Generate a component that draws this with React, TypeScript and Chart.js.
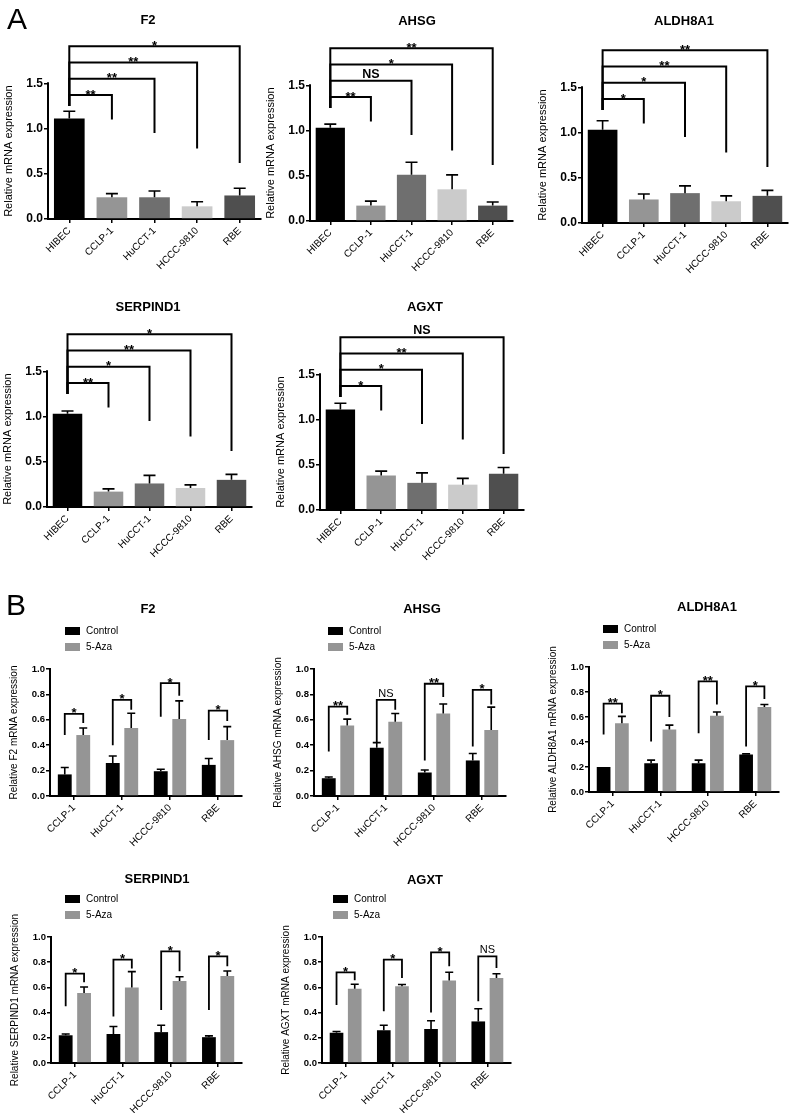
import React, { useEffect, useRef } from 'react';
import { Chart, registerables } from 'chart.js';

Chart.register(...registerables);

const FONT = '"Liberation Sans", Arial, Helvetica, sans-serif';

// ---------- categories / series ----------
const linesA = ['HIBEC', 'CCLP-1', 'HuCCT-1', 'HCCC-9810', 'RBE'];
const linesB = ['CCLP-1', 'HuCCT-1', 'HCCC-9810', 'RBE'];
const colorsA = ['#000000', '#959595', '#6f6f6f', '#cbcbcb', '#4f4f4f'];
const seriesB = ['Control', '5-Aza'];
const colorsB = ['#000000', '#959595'];

const ticksA = [0, 0.5, 1.0, 1.5];
const ticksB = [0, 0.2, 0.4, 0.6, 0.8, 1.0];

// ---------- Panel A values (mean, SD) ----------
const f2A = [1.11, 0.24, 0.24, 0.14, 0.26];
const f2AErr = [0.08, 0.04, 0.07, 0.05, 0.08];
const f2ASig = ['**', '**', '**', '*'];

const ahsgA = [1.03, 0.17, 0.51, 0.35, 0.17];
const ahsgAErr = [0.04, 0.05, 0.14, 0.16, 0.04];
const ahsgASig = ['**', 'NS', '*', '**'];

const aldhA = [1.03, 0.26, 0.33, 0.24, 0.3];
const aldhAErr = [0.1, 0.06, 0.08, 0.06, 0.06];
const aldhASig = ['*', '*', '**', '**'];

const serpA = [1.03, 0.17, 0.26, 0.21, 0.3];
const serpAErr = [0.03, 0.03, 0.09, 0.035, 0.06];
const serpASig = ['**', '*', '**', '*'];

const agxtA = [1.11, 0.38, 0.3, 0.28, 0.4];
const agxtAErr = [0.07, 0.05, 0.11, 0.07, 0.07];
const agxtASig = ['*', '*', '**', 'NS'];

// bracket heights (value units) used in panel A
const bracketTopA = [1.37, 1.55, 1.73, 1.91];
const bracketEndA = [1.1, 0.95, 0.78, 0.62];
const bracketStartA = 1.25;

// ---------- Panel B values ----------
const f2Ctrl = [0.17, 0.26, 0.195, 0.245];
const f2CtrlErr = [0.055, 0.055, 0.016, 0.05];
const f2Aza = [0.48, 0.535, 0.607, 0.44];
const f2AzaErr = [0.055, 0.117, 0.142, 0.106];
const f2BTop = [0.646, 0.757, 0.889, 0.673];
const f2BLeft = [0.48, 0.4, 0.625, 0.44];
const f2BRight = [0.575, 0.68, 0.79, 0.59];
const f2BSig = ['*', '*', '*', '*'];

const ahsgCtrl = [0.14, 0.38, 0.185, 0.28];
const ahsgCtrlErr = [0.01, 0.04, 0.02, 0.055];
const ahsgAza = [0.555, 0.585, 0.65, 0.52];
const ahsgAzaErr = [0.05, 0.065, 0.075, 0.18];
const ahsgBTop = [0.704, 0.757, 0.884, 0.836];
const ahsgBLeft = [0.35, 0.42, 0.28, 0.39];
const ahsgBRight = [0.64, 0.68, 0.78, 0.72];
const ahsgBSig = ['**', 'NS', '**', '*'];

const aldhCtrl = [0.2, 0.23, 0.23, 0.3];
const aldhCtrlErr = [0.0, 0.025, 0.025, 0.005];
const aldhAza = [0.55, 0.5, 0.61, 0.68];
const aldhAzaErr = [0.055, 0.035, 0.03, 0.02];
const aldhBTop = [0.707, 0.77, 0.885, 0.845];
const aldhBLeft = [0.46, 0.405, 0.47, 0.365];
const aldhBRight = [0.63, 0.6, 0.7, 0.745];
const aldhBSig = ['**', '*', '**', '*'];

const serpCtrl = [0.22, 0.23, 0.245, 0.205];
const serpCtrlErr = [0.01, 0.06, 0.055, 0.01];
const serpAza = [0.555, 0.6, 0.65, 0.69];
const serpAzaErr = [0.048, 0.125, 0.035, 0.04];
const serpBTop = [0.709, 0.82, 0.886, 0.847];
const serpBLeft = [0.45, 0.37, 0.42, 0.42];
const serpBRight = [0.64, 0.75, 0.728, 0.767];
const serpBSig = ['*', '*', '*', '*'];

const agxtCtrl = [0.24, 0.26, 0.27, 0.33];
const agxtCtrlErr = [0.01, 0.04, 0.065, 0.1];
const agxtAza = [0.59, 0.61, 0.655, 0.675];
const agxtAzaErr = [0.035, 0.013, 0.065, 0.033];
const agxtBTop = [0.72, 0.82, 0.878, 0.847];
const agxtBLeft = [0.46, 0.41, 0.4, 0.49];
const agxtBRight = [0.656, 0.675, 0.767, 0.754];
const agxtBSig = ['*', '*', '*', 'NS'];

type Spec = {
  kind: 'A' | 'B';
  title: string;
  titleX: number;
  titleY: number;
  letter?: string;
  letterX?: number;
  letterY?: number;
  yTitle: string;
  L: number;
  R: number;
  B0: number;
  ppu: number;
  series: number[][];
  errs: number[][];
  bTop: number[];
  bLeft: number[];
  bRight: number[];
  sig: string[];
  legendX?: number;
};

const specs: Spec[] = [
  { kind: 'A', title: 'F2', titleX: 148, titleY: 20, letter: 'A', letterX: 7, letterY: 29, yTitle: 'Relative mRNA expression',
    L: 48, R: 261, B0: 219, ppu: 90.67, series: [f2A], errs: [f2AErr],
    bTop: bracketTopA, bLeft: bracketTopA.map(() => bracketStartA), bRight: bracketEndA, sig: f2ASig },
  { kind: 'A', title: 'AHSG', titleX: 417, titleY: 21, yTitle: 'Relative mRNA expression',
    L: 310, R: 513, B0: 221, ppu: 90.67, series: [ahsgA], errs: [ahsgAErr],
    bTop: bracketTopA, bLeft: bracketTopA.map(() => bracketStartA), bRight: bracketEndA, sig: ahsgASig },
  { kind: 'A', title: 'ALDH8A1', titleX: 684, titleY: 21, yTitle: 'Relative mRNA expression',
    L: 582, R: 788, B0: 223, ppu: 90.67, series: [aldhA], errs: [aldhAErr],
    bTop: bracketTopA, bLeft: bracketTopA.map(() => bracketStartA), bRight: bracketEndA, sig: aldhASig },
  { kind: 'A', title: 'SERPIND1', titleX: 148, titleY: 307, yTitle: 'Relative mRNA expression',
    L: 47, R: 252, B0: 507, ppu: 90.67, series: [serpA], errs: [serpAErr],
    bTop: bracketTopA, bLeft: bracketTopA.map(() => bracketStartA), bRight: bracketEndA, sig: serpASig },
  { kind: 'A', title: 'AGXT', titleX: 425, titleY: 307, yTitle: 'Relative mRNA expression',
    L: 320, R: 524, B0: 510, ppu: 90.67, series: [agxtA], errs: [agxtAErr],
    bTop: bracketTopA, bLeft: bracketTopA.map(() => bracketStartA), bRight: bracketEndA, sig: agxtASig },

  { kind: 'B', title: 'F2', titleX: 148, titleY: 609, letter: 'B', letterX: 6, letterY: 615, yTitle: 'Relative F2 mRNA expression',
    L: 50, R: 242, B0: 796, ppu: 127, series: [f2Ctrl, f2Aza], errs: [f2CtrlErr, f2AzaErr],
    bTop: f2BTop, bLeft: f2BLeft, bRight: f2BRight, sig: f2BSig, legendX: 65 },
  { kind: 'B', title: 'AHSG', titleX: 422, titleY: 609, yTitle: 'Relative AHSG mRNA expression',
    L: 314, R: 506, B0: 796, ppu: 127, series: [ahsgCtrl, ahsgAza], errs: [ahsgCtrlErr, ahsgAzaErr],
    bTop: ahsgBTop, bLeft: ahsgBLeft, bRight: ahsgBRight, sig: ahsgBSig, legendX: 328 },
  { kind: 'B', title: 'ALDH8A1', titleX: 707, titleY: 607, yTitle: 'Relative ALDH8A1 mRNA expression',
    L: 589, R: 779, B0: 792, ppu: 125, series: [aldhCtrl, aldhAza], errs: [aldhCtrlErr, aldhAzaErr],
    bTop: aldhBTop, bLeft: aldhBLeft, bRight: aldhBRight, sig: aldhBSig, legendX: 603 },
  { kind: 'B', title: 'SERPIND1', titleX: 157, titleY: 879, yTitle: 'Relative SERPIND1 mRNA expression',
    L: 51, R: 242, B0: 1063, ppu: 126, series: [serpCtrl, serpAza], errs: [serpCtrlErr, serpAzaErr],
    bTop: serpBTop, bLeft: serpBLeft, bRight: serpBRight, sig: serpBSig, legendX: 65 },
  { kind: 'B', title: 'AGXT', titleX: 425, titleY: 880, yTitle: 'Relative AGXT mRNA expression',
    L: 322, R: 511, B0: 1063, ppu: 126, series: [agxtCtrl, agxtAza], errs: [agxtCtrlErr, agxtAzaErr],
    bTop: agxtBTop, bLeft: agxtBLeft, bRight: agxtBRight, sig: agxtBSig, legendX: 333 },
];

const ML = 52;
const MR = 8;
const MB = 62;

function geometry(s: Spec) {
  const ymax = s.kind === 'A' ? 2.0 : 1.0;
  const MT = s.kind === 'A' ? 45 : 80;
  const T = s.B0 - ymax * s.ppu;
  const left = s.L - ML;
  const top = T - MT;
  const w = Math.round(s.R - s.L + ML + MR);
  const h = Math.round(s.B0 - T + MT + MB);
  return { ymax, MT, T, left, top, w, h };
}

function Panel({ s }: { s: Spec }) {
  const ref = useRef<HTMLCanvasElement>(null);
  const g = geometry(s);

  useEffect(() => {
    const isA = s.kind === 'A';
    const axisMax = isA ? 1.5 : 1.0;
    const tickVals = isA ? ticksA : ticksB;
    const px = (x: number) => x - g.left;
    const py = (y: number) => y - g.top;

    const decor = {
      id: 'decor' + s.title + s.kind,
      afterDatasetsDraw(chart: any) {
        const { ctx, chartArea, scales } = chart;
        const y = scales.y;
        const yp = (v: number) => y.getPixelForValue(v);
        ctx.save();
        ctx.strokeStyle = '#000';
        ctx.fillStyle = '#000';
        // y axis line
        ctx.lineWidth = 2;
        ctx.beginPath();
        ctx.moveTo(chartArea.left, yp(0) + 1);
        ctx.lineTo(chartArea.left, yp(axisMax) - 1);
        ctx.stroke();
        // error bars
        const cap = isA ? 12 : 8;
        s.series.forEach((ser, di) => {
          const meta = chart.getDatasetMeta(di);
          meta.data.forEach((el: any, i: number) => {
            const e = s.errs[di][i];
            if (!(e > 0.003)) return;
            const yb = yp(ser[i]);
            const yt = yp(ser[i] + e);
            ctx.lineWidth = 1.6;
            ctx.beginPath();
            ctx.moveTo(el.x, yb);
            ctx.lineTo(el.x, yt);
            ctx.moveTo(el.x - cap / 2, yt);
            ctx.lineTo(el.x + cap / 2, yt);
            ctx.stroke();
          });
        });
        // brackets
        ctx.lineWidth = isA ? 2 : 1.8;
        ctx.lineJoin = 'miter';
        const m0 = chart.getDatasetMeta(0);
        const m1 = isA ? m0 : chart.getDatasetMeta(1);
        s.bTop.forEach((top, i) => {
          const xl = isA ? m0.data[0].x : m0.data[i].x;
          const xr = isA ? m0.data[i + 1].x : m1.data[i].x;
          const yt = yp(top);
          ctx.beginPath();
          ctx.moveTo(xl, yp(s.bLeft[i]));
          ctx.lineTo(xl, yt);
          ctx.lineTo(xr, yt);
          ctx.lineTo(xr, yp(s.bRight[i]));
          ctx.stroke();
          const lab = s.sig[i];
          const xm = (xl + xr) / 2;
          ctx.textAlign = 'center';
          ctx.textBaseline = 'alphabetic';
          if (lab === 'NS') {
            ctx.font = isA ? `bold 12.5px ${FONT}` : `11px ${FONT}`;
            ctx.fillText(lab, xm, yt - 3);
          } else {
            ctx.font = `bold 13px ${FONT}`;
            ctx.fillText(lab, xm, yt + 3.5);
          }
        });
        ctx.restore();
      },
      afterDraw(chart: any) {
        const { ctx, chartArea, scales } = chart;
        const y = scales.y;
        ctx.save();
        ctx.fillStyle = '#000';
        // title
        ctx.font = `bold 13px ${FONT}`;
        ctx.textAlign = 'center';
        ctx.textBaseline = 'middle';
        ctx.fillText(s.title, px(s.titleX), py(s.titleY));
        // panel letter
        if (s.letter) {
          ctx.font = `30px ${FONT}`;
          ctx.textAlign = 'left';
          ctx.textBaseline = 'alphabetic';
          ctx.fillText(s.letter, px(s.letterX!), py(s.letterY!));
        }
        // y title
        const yc = (y.getPixelForValue(0) + y.getPixelForValue(axisMax)) / 2;
        ctx.save();
        ctx.translate(chartArea.left + (isA ? -39 : -36), yc);
        ctx.rotate(-Math.PI / 2);
        ctx.font = `${isA ? 11 : 10}px ${FONT}`;
        ctx.textAlign = 'center';
        ctx.textBaseline = 'middle';
        ctx.fillText(s.yTitle, 0, 0);
        ctx.restore();
        // legend
        if (!isA && s.legendX !== undefined) {
          seriesB.forEach((name, i) => {
            const sy = py(g.T - 42 + i * 16);
            const sx = px(s.legendX!);
            ctx.fillStyle = colorsB[i];
            ctx.fillRect(sx, sy, 15, 8);
            ctx.fillStyle = '#000';
            ctx.font = `10px ${FONT}`;
            ctx.textAlign = 'left';
            ctx.textBaseline = 'middle';
            ctx.fillText(name, sx + 21, sy + 4.5);
          });
        }
        ctx.restore();
      },
    };

    const datasets = isA
      ? [{ data: s.series[0], backgroundColor: colorsA, barPercentage: 0.72, categoryPercentage: 1 }]
      : s.series.map((d, i) => ({
          label: seriesB[i],
          data: d,
          backgroundColor: colorsB[i],
          barPercentage: 0.75,
          categoryPercentage: 0.77,
        }));

    const chart = new Chart(ref.current!, {
      type: 'bar',
      data: { labels: isA ? linesA : linesB, datasets: datasets as any },
      options: {
        responsive: false,
        animation: false,
        devicePixelRatio: 1,
        layout: { padding: { left: 0, right: MR, top: g.MT, bottom: 0 } },
        plugins: { legend: { display: false }, title: { display: false }, tooltip: { enabled: false } },
        scales: {
          x: {
            type: 'category',
            offset: true,
            grid: { offset: false, drawOnChartArea: false, drawTicks: true, tickLength: 4, color: '#000', lineWidth: 1.5 },
            border: { display: true, color: '#000', width: 2 },
            ticks: {
              color: '#000',
              font: { size: 10, family: FONT },
              minRotation: 45,
              maxRotation: 45,
              autoSkip: false,
              padding: 2,
            },
            afterFit: (sc: any) => {
              sc.height = MB;
            },
          } as any,
          y: {
            type: 'linear',
            min: 0,
            max: g.ymax,
            afterBuildTicks: (sc: any) => {
              sc.ticks = tickVals.map((v) => ({ value: v }));
            },
            grid: { drawOnChartArea: false, drawTicks: true, tickLength: 4, color: '#000', lineWidth: 1.5 },
            border: { display: false },
            ticks: {
              color: '#000',
              font: { size: isA ? 12 : 9.5, weight: 'bold', family: FONT },
              padding: 1,
              callback: (v: any) => Number(v).toFixed(1),
            },
            afterFit: (sc: any) => {
              sc.width = ML;
            },
          } as any,
        },
      },
      plugins: [decor],
    });
    return () => chart.destroy();
  }, []);

  return (
    <canvas
      ref={ref}
      width={g.w}
      height={g.h}
      style={{ position: 'absolute', left: g.left, top: g.top, width: g.w, height: g.h }}
    />
  );
}

export default function App() {
  return (
    <div
      style={{
        position: 'absolute',
        left: 0,
        top: 0,
        width: 791,
        height: 1113,
        overflow: 'hidden',
        background: '#fff',
        fontFamily: FONT,
      }}
    >
      {specs.map((s, i) => (
        <Panel key={i} s={s} />
      ))}
    </div>
  );
}
